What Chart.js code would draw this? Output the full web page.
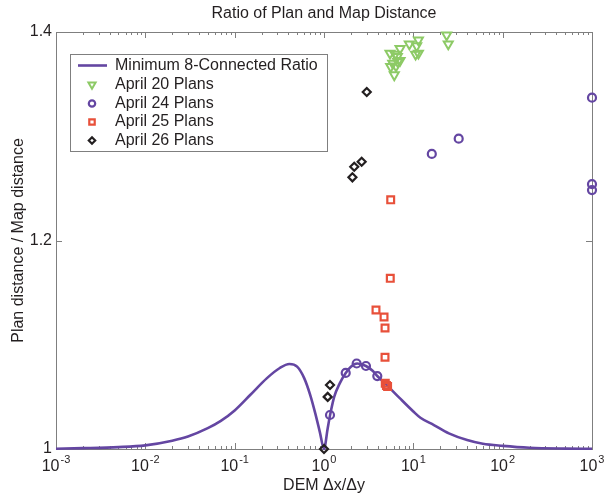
<!DOCTYPE html>
<html>
<head>
<meta charset="utf-8">
<script src="https://cdn.jsdelivr.net/npm/chart.js@4/dist/chart.umd.min.js"></script>
<style>
  html, body { margin: 0; padding: 0; background: #fff; }
  #c { display: block; }
</style>
</head>
<body>
<canvas id="c" width="609" height="496"></canvas>
<script>
/* Ratio of Plan and Map Distance — courbe 8-connexe + plans par date */
(function () {
  "use strict";

  // Minimum 8-connected ratio
  var curveX = [0.001, 0.002, 0.005, 0.01, 0.02, 0.03, 0.05, 0.07, 0.1, 0.15, 0.23, 0.32, 0.41,
    0.5, 0.6, 0.7, 0.8, 0.9, 1, 1.1, 1.17, 1.3, 1.5, 1.75, 2, 2.35, 2.95, 3.5, 3.95, 4.95,
    7, 10, 12, 17, 25, 40, 60, 100, 200, 500, 1000];
  var curveY = [1.0003, 1.0008, 1.0018, 1.0035, 1.008, 1.012, 1.020, 1.027, 1.037, 1.052, 1.068, 1.0777, 1.0815,
    1.079, 1.068, 1.052, 1.034, 1.016, 1.0, 1.02, 1.0326, 1.050, 1.063, 1.073, 1.079, 1.082, 1.0796, 1.075, 1.070, 1.062,
    1.049, 1.036, 1.030, 1.023, 1.015, 1.0086, 1.005, 1.003, 1.0012, 1.0004, 1.0002];

  // April 20 plans
  var apr20X = [5.48, 6.24, 6.62, 7.10, 9.02, 11.4, 10.9, 10.6, 11.4, 7.10, 5.58, 6.40, 6.12, 23.6, 24.6, 5.88, 6.69];
  var apr20Y = [1.3796, 1.3786, 1.3763, 1.384, 1.3885, 1.3923, 1.3866, 1.3786, 1.3796, 1.3725, 1.3667, 1.3674, 1.3588, 1.3971, 1.3885, 1.370, 1.3715];
  // April 24 plans
  var apr24X = [1000, 32.2, 16.1, 1000, 1000, 1.167, 1.75, 2.32, 2.95, 3.95];
  var apr24Y = [1.337, 1.2977, 1.283, 1.254, 1.2484, 1.0326, 1.073, 1.082, 1.0796, 1.070];
  // April 25 plans
  var apr25X = [5.58, 5.52, 3.82, 4.70, 4.82, 4.82, 4.85, 5.0, 5.15];
  var apr25Y = [1.239, 1.1637, 1.1333, 1.1266, 1.116, 1.088, 1.063, 1.061, 1.060];
  // April 26 plans
  var apr26X = [3.01, 2.64, 2.18, 2.08, 1.167, 1.10, 1.0];
  var apr26Y = [1.3424, 1.2756, 1.2708, 1.2606, 1.0614, 1.050, 1.0];

  var xTicks = [-3, -2, -1, 0, 1, 2, 3];
  var yTicks = [1, 1.2, 1.4];
  var yTickLabels = ["1", "1.2", "1.4"];

  var VIOLET = "#6446a2", VERT = "#8dca66", ROUGE = "#e8503a", NOIR = "#231f20", GRIS = "#7f7f7f";
  var POLICE = "'Liberation Sans', Arial, sans-serif";

  function pts(xs, ys) { return xs.map(function (x, i) { return { x: x, y: ys[i] }; }); }

  var series = [
    { label: "April 20 Plans", data: pts(apr20X, apr20Y), borderColor: VERT, pointStyle: "triangle", rotation: 180, pointRadius: 5.2, pointBorderWidth: 2 },
    { label: "April 24 Plans", data: pts(apr24X, apr24Y), borderColor: VIOLET, pointStyle: "circle", rotation: 0, pointRadius: 4, pointBorderWidth: 2.2 },
    { label: "April 25 Plans", data: pts(apr25X, apr25Y), borderColor: ROUGE, pointStyle: "rect", rotation: 0, pointRadius: 4.8, pointBorderWidth: 2.2 },
    { label: "April 26 Plans", data: pts(apr26X, apr26Y), borderColor: NOIR, pointStyle: "rectRot", rotation: 0, pointRadius: 4, pointBorderWidth: 2.2 }
  ];

  var datasets = series.map(function (s) {
    return {
      label: s.label, data: s.data, showLine: false, clip: false,
      borderColor: s.borderColor, backgroundColor: "rgba(0,0,0,0)",
      pointStyle: s.pointStyle, rotation: s.rotation, pointRadius: s.pointRadius,
      pointBorderWidth: s.pointBorderWidth, pointBorderColor: s.borderColor,
      pointBackgroundColor: "rgba(0,0,0,0)", order: 1
    };
  });
  datasets.push({
    label: "Minimum 8-Connected Ratio", data: pts(curveX, curveY), showLine: true,
    borderColor: VIOLET, borderWidth: 2.6, pointRadius: 0, cubicInterpolationMode: "monotone",
    clip: false, order: 5
  });

  var habillage = {
    id: "habillage",
    beforeDatasetsDraw: function (chart) {
      var ctx = chart.ctx, a = chart.chartArea, xs = chart.scales.x, ys = chart.scales.y;
      ctx.save();
      ctx.strokeStyle = GRIS; ctx.lineWidth = 1;
      ctx.strokeRect(Math.round(a.left) + 0.5, Math.round(a.top) + 0.5, Math.round(a.right - a.left), Math.round(a.bottom - a.top));
      ctx.beginPath();
      xTicks.forEach(function (d) {
        for (var k = 1; k <= 9; k++) {
          if (d === 3 && k > 1) break;
          var px = Math.round(xs.getPixelForValue(k * Math.pow(10, d))) + 0.5;
          var len = k === 1 ? 6 : 3;
          ctx.moveTo(px, a.bottom); ctx.lineTo(px, a.bottom - len);
          ctx.moveTo(px, a.top); ctx.lineTo(px, a.top + len);
        }
      });
      yTicks.forEach(function (v) {
        var py = Math.round(ys.getPixelForValue(v)) + 0.5;
        ctx.moveTo(a.left, py); ctx.lineTo(a.left + 6, py);
        ctx.moveTo(a.right, py); ctx.lineTo(a.right - 6, py);
      });
      ctx.stroke();
      ctx.restore();
    },
    afterDraw: function (chart) {
      var ctx = chart.ctx, a = chart.chartArea, xs = chart.scales.x, ys = chart.scales.y;
      var cx = (a.left + a.right) / 2;
      ctx.save();
      ctx.fillStyle = NOIR;
      ctx.textBaseline = "middle";

      // titre
      ctx.font = "16px " + POLICE; ctx.textAlign = "center";
      ctx.fillText("Ratio of Plan and Map Distance", cx, 14);
      ctx.fillText("DEM \u0394x/\u0394y", cx, 486);

      // axe y
      ctx.save();
      ctx.translate(19, (a.top + a.bottom) / 2);
      ctx.rotate(-Math.PI / 2);
      ctx.fillText("Plan distance / Map distance", 0, 0);
      ctx.restore();

      ctx.textAlign = "right";
      yTicks.forEach(function (v, i) {
        ctx.fillText(yTickLabels[i], a.left - 4, ys.getPixelForValue(v));
      });

      // graduations x : 10^n
      ctx.textAlign = "left";
      xTicks.forEach(function (d) {
        var px = xs.getPixelForValue(Math.pow(10, d));
        var exp = d < 0 ? "-" + (-d) : String(d);
        ctx.font = "16px " + POLICE;
        var w1 = ctx.measureText("10").width;
        ctx.font = "11px " + POLICE;
        var w2 = ctx.measureText(exp).width;
        var x0 = px - (w1 + w2 + 1) / 2;
        ctx.font = "16px " + POLICE;
        ctx.fillText("10", x0, 467);
        ctx.font = "11px " + POLICE;
        ctx.fillText(exp, x0 + w1 + 1, 460);
      });

      // légende
      var lx = 70.5, ly = 54.5, lw = 257, lh = 97;
      ctx.fillStyle = "#fff"; ctx.fillRect(lx, ly, lw, lh);
      ctx.strokeStyle = GRIS; ctx.lineWidth = 1; ctx.strokeRect(lx, ly, lw, lh);
      ctx.font = "16px " + POLICE; ctx.textAlign = "left"; ctx.fillStyle = NOIR;
      var rows = [65.5, 84.5, 103.5, 122, 140.5];
      ctx.strokeStyle = VIOLET; ctx.lineWidth = 2.6;
      ctx.beginPath(); ctx.moveTo(78, rows[0]); ctx.lineTo(107, rows[0]); ctx.stroke();
      ctx.fillText("Minimum 8-Connected Ratio", 115, rows[0]);
      series.forEach(function (s, i) {
        var y = rows[i + 1];
        ctx.strokeStyle = s.borderColor; ctx.fillStyle = "rgba(0,0,0,0)"; ctx.lineWidth = s.pointBorderWidth;
        Chart.helpers.drawPoint(ctx, { pointStyle: s.pointStyle, rotation: s.rotation, radius: s.pointRadius * 0.8, borderWidth: s.pointBorderWidth }, 92, y);
        ctx.fillStyle = NOIR;
        ctx.fillText(s.label, 115, y);
      });
      ctx.restore();
    }
  };

  new Chart(document.getElementById("c"), {
    type: "scatter",
    data: { datasets: datasets },
    options: {
      responsive: false, animation: false, devicePixelRatio: 1,
      layout: { padding: { left: 56, right: 17, top: 32, bottom: 47 } },
      plugins: { legend: { display: false }, tooltip: { enabled: false }, title: { display: false } },
      scales: {
        x: { type: "logarithmic", min: 0.001, max: 1000, display: false },
        y: { type: "linear", min: 1, max: 1.4, display: false }
      }
    },
    plugins: [habillage]
  });
})();
</script>
</body>
</html>
